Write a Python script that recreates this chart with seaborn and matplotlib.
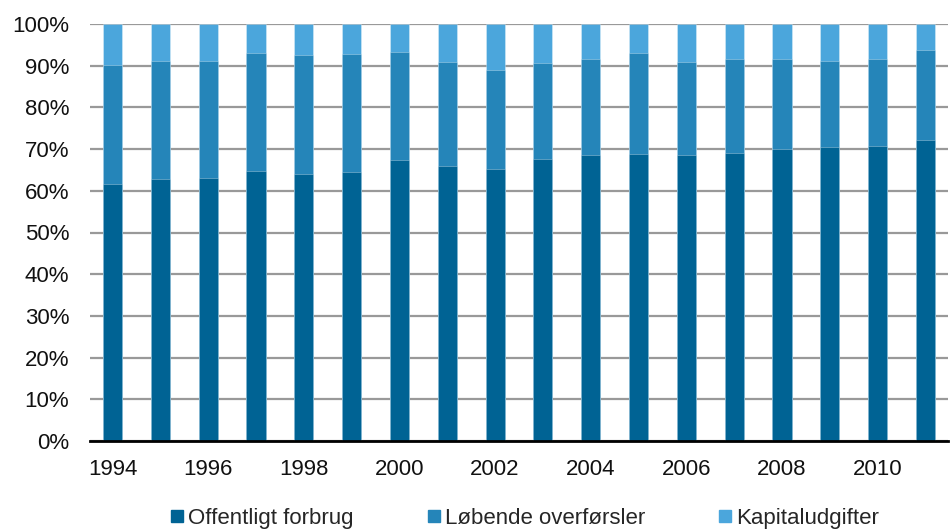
import matplotlib
matplotlib.use("Agg")
import matplotlib.pyplot as plt
import seaborn as sns
import pandas as pd
import numpy as np
from matplotlib.lines import Line2D

years = list(range(1994, 2012))
offentligt_forbrug = [61.6, 62.8, 63.1, 64.8, 64.1, 64.5, 67.5, 66.0, 65.3, 67.7,
                      68.7, 68.9, 68.7, 69.1, 70.1, 70.6, 70.8, 72.3]
lobende_overforsler = [28.6, 28.4, 28.1, 28.2, 28.5, 28.3, 25.9, 25.0, 23.7, 22.9,
                       23.0, 24.1, 22.3, 22.6, 21.6, 20.6, 20.9, 21.5]
kapitaludgifter = [9.8, 8.8, 8.8, 7.0, 7.4, 7.2, 6.6, 9.0, 11.0, 9.4,
                   8.3, 7.0, 9.0, 8.3, 8.3, 8.8, 8.3, 6.2]
series_names = ["Offentligt forbrug", "Løbende overførsler", "Kapitaludgifter"]
colors = ["#006394", "#2585B9", "#4BA6DC"]
ytick_labels = ["0%", "10%", "20%", "30%", "40%", "50%", "60%", "70%", "80%", "90%", "100%"]

sns.set_theme(style="white")
plt.rcParams["font.family"] = ["Liberation Sans", "DejaVu Sans"]

df = pd.DataFrame({
    "year": [str(y) for y in years],
    "s1": offentligt_forbrug,
    "s2": lobende_overforsler,
    "s3": kapitaludgifter,
})
df["c1"] = df["s1"]
df["c2"] = df["s1"] + df["s2"]
df["c3"] = df["c2"] + df["s3"]

fig = plt.figure(figsize=(9.52, 5.30), dpi=100)
ax = fig.add_axes([90 / 952, 1 - 441 / 530, (948 - 90) / 952, (441 - 24) / 530])

for col, color in zip(["c3", "c2", "c1"], colors[::-1]):
    sns.barplot(data=df, x="year", y=col, color=color, width=0.4, ax=ax,
                saturation=1, edgecolor=(1, 1, 1, 0.35), linewidth=0.6, zorder=3)

ax.set_ylim(0, 100)
ax.set_xlim(-0.47, len(years) - 0.53)
ax.set_yticks(np.arange(0, 101, 10))
ax.set_yticklabels(ytick_labels, fontsize=16, color="#111111")
ax.set_xticks(range(0, len(years), 2))
ax.set_xticklabels([str(y) for y in years[::2]], fontsize=16, color="#111111")
ax.tick_params(axis="both", length=0)
ax.tick_params(axis="x", pad=13)
ax.tick_params(axis="y", pad=15)
ax.set_xlabel("")
ax.set_ylabel("")

ax.yaxis.grid(True, color="#999999", linewidth=1.6, zorder=0)
ax.set_axisbelow(True)
for s in ["top", "right", "left"]:
    ax.spines[s].set_visible(False)
ax.spines["bottom"].set_color("#000000")
ax.spines["bottom"].set_linewidth(2)
ax.spines["bottom"].set_zorder(5)

handles = [Line2D([0], [0], marker="s", linestyle="", markersize=9,
                  markerfacecolor=c, markeredgecolor=c) for c in colors]
fig.legend(handles, series_names, loc="center", bbox_to_anchor=(0.55, 0.022),
           ncol=3, frameon=False, fontsize=16, handletextpad=0.1,
           columnspacing=3.2, handlelength=0.8)

fig.savefig("out.png", dpi=100)
